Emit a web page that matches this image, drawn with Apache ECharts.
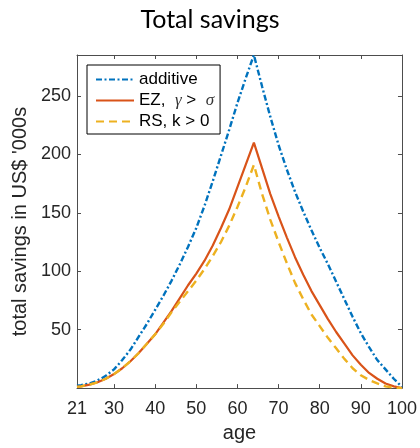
<!DOCTYPE html>
<html>
<head>
<meta charset="utf-8">
<script src="https://cdn.jsdelivr.net/npm/echarts@6/dist/echarts.min.js"></script>
<style>
html,body{margin:0;padding:0;background:#fff;}
#chart{width:420px;height:448px;}
</style>
</head>
<body>
<div id="chart"></div>
<script>
// ages (years)
var ages = [21,22,24,26,28,30,32,34,36,38,40,42,44,46,48,50,52,54,56,58,60,62,64,66,68,70,72,74,76,78,80,82,84,86,88,90,92,94,96,98,100];
// total savings in US$ '000s
var additive = [2,2.5,4,6.5,10.5,16,24,33,44,55,67,79,92,106,121,137,156,177,199,221,244,265,285,258,232,208,187,168,151,135,120,106,91,76,61,47,35,24,16,8,1];
var ezGammaSigma = [1,1.5,3,5,8,12,17,23,30,38,46,56,66,77,88,98,109,122,137,153,172,191,210,188,166,147,129,112,97,83,71,59,48,38,28,20,13,8,4,1.5,0];
var rsK = [1,1.5,3,5,8,12,17,23,30,38,46,55,65,74,83,92,102,113,125,139,155,172,191,166,144,125,107,90,76,63,53,43,34,25,17,11,7,4,1.5,0.5,0];
var seriesNames = ['additive', 'EZ', 'RS'];
var xTicks = [21,30,40,50,60,70,80,90,100];
var yTicks = [50,100,150,200,250];

function pairs(v){ return ages.map(function(a,i){ return [a, v[i]]; }); }

var axisCol = '#4d4d4d';
var txtCol = '#262626';
var chart = echarts.init(document.getElementById('chart'), null, {renderer:'canvas'});
chart.setOption({
  animation: false,
  backgroundColor: '#fff',
  title: {
    text: 'Total savings',
    left: 'center',
    top: 2,
    textStyle: {fontFamily: 'Lato', fontSize: 25, fontWeight: 'normal', color: '#000'}
  },
  legend: {
    orient: 'vertical',
    left: 87,
    top: 65,
    backgroundColor: '#fff',
    borderColor: '#000',
    borderWidth: 1,
    borderRadius: 0,
    padding: [6, 6, 4, 8],
    itemWidth: 38,
    itemHeight: 16,
    itemGap: 4,
    itemStyle: {opacity: 0},
    textStyle: {
      fontFamily: 'Liberation Sans', fontSize: 17, color: '#000', lineHeight: 16,
      rich: {
        n: {fontFamily: 'Liberation Sans', fontSize: 17, color: '#000'},
        g: {fontFamily: 'Liberation Serif', fontStyle: 'italic', fontSize: 17, color: '#333'}
      }
    },
    formatter: function(name){
      if (name === 'EZ') return '{n|EZ,  }{g|γ}{n| >  }{g|σ}';
      if (name === 'RS') return '{n|RS, k > 0}';
      return '{n|' + name + '}';
    },
    data: seriesNames
  },
  grid: {left: 77, right: 15, top: 55, bottom: 51, containLabel: false},
  xAxis: [{
    type: 'value', min: 21, max: 100,
    name: 'age', nameLocation: 'middle', nameGap: 27,
    nameTextStyle: {fontFamily: 'Liberation Sans', fontSize: 20, color: txtCol},
    axisLine: {show: true, lineStyle: {color: axisCol, width: 1}},
    axisTick: {show: true, inside: true, length: 4, lineStyle: {color: axisCol}, customValues: xTicks},
    axisLabel: {show: true, margin: 12, fontFamily: 'Liberation Sans', fontSize: 18, color: txtCol, customValues: xTicks},
    splitLine: {show: false}
  }, {
    type: 'value', min: 21, max: 100, position: 'top',
    axisLine: {show: true, onZero: false, lineStyle: {color: axisCol, width: 1}},
    axisTick: {show: true, inside: true, length: 4, lineStyle: {color: axisCol}, customValues: xTicks},
    axisLabel: {show: false},
    splitLine: {show: false}
  }],
  yAxis: [{
    type: 'value', min: 0, max: 285,
    name: "total savings in US$ '000s", nameLocation: 'middle', nameGap: 44,
    nameTextStyle: {fontFamily: 'Liberation Sans', fontSize: 20, color: txtCol},
    axisLine: {show: true, onZero: false, lineStyle: {color: axisCol, width: 1}},
    axisTick: {show: true, inside: true, length: 4, lineStyle: {color: axisCol}, customValues: yTicks},
    axisLabel: {show: true, margin: 6, fontFamily: 'Liberation Sans', fontSize: 18, color: txtCol, customValues: yTicks},
    splitLine: {show: false}
  }, {
    type: 'value', min: 0, max: 285, position: 'right',
    axisLine: {show: true, onZero: false, lineStyle: {color: axisCol, width: 1}},
    axisTick: {show: true, inside: true, length: 4, lineStyle: {color: axisCol}, customValues: yTicks},
    axisLabel: {show: false},
    splitLine: {show: false}
  }],
  series: [{
    name: 'additive', type: 'line', data: pairs(additive), symbol: 'none', smooth: false,
    color: '#0072BD',
    lineStyle: {color: '#0072BD', width: 2.4, type: [6, 2.5, 2, 2.5]}
  }, {
    name: 'EZ', type: 'line', data: pairs(ezGammaSigma), symbol: 'none', smooth: false,
    color: '#D95319',
    lineStyle: {color: '#D95319', width: 2.2, type: 'solid'}
  }, {
    name: 'RS', type: 'line', data: pairs(rsK), symbol: 'none', smooth: false,
    color: '#EDB120',
    lineStyle: {color: '#EDB120', width: 2.4, type: [8, 5]}
  }]
});
</script>
</body>
</html>
